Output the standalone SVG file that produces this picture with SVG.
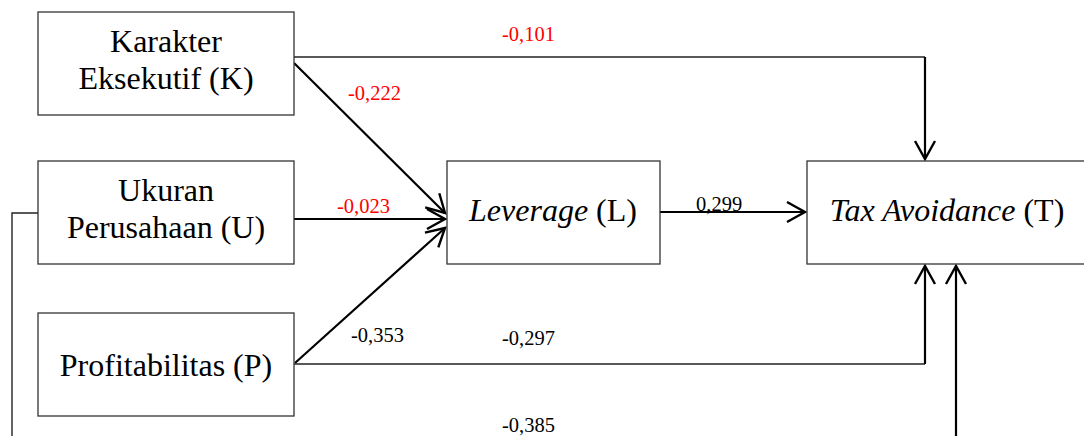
<svg xmlns="http://www.w3.org/2000/svg" width="1084" height="436" viewBox="0 0 1084 436">
<style>
.box{fill:#fff;stroke:#333;stroke-width:1.3}
.t{font-family:"Liberation Serif","Times New Roman",serif;font-size:32px;fill:#000;text-anchor:middle}
.lbl{font-family:"Liberation Serif","Times New Roman",serif;font-size:20.5px;fill:#000}
.red{fill:#ff0000}
.c{fill:none;stroke:#000;stroke-width:2.2}
.thin{fill:none;stroke:#222;stroke-width:1.4}
</style>
<defs>
<marker id="ah" markerUnits="userSpaceOnUse" markerWidth="24" markerHeight="24" viewBox="-20 -12 24 24" refX="0" refY="0" orient="auto">
<path d="M-18,-10 L0,0 L-18,10" fill="none" stroke="#000" stroke-width="2.4"/>
</marker>
</defs>
<rect width="1084" height="436" fill="#fff"/>
<g id="connectors">
<path class="thin" d="M294,57 H925"/>
<path class="c" d="M925,57 V159" marker-end="url(#ah)"/>
<path class="c" d="M294,63 L445,213" marker-end="url(#ah)"/>
<path class="c" d="M294,219 L445,219" marker-end="url(#ah)"/>
<path class="c" d="M295,363 L445,228" marker-end="url(#ah)"/>
<path class="c" d="M660,212 L805,212" marker-end="url(#ah)"/>
<path class="thin" d="M294,364 H925"/>
<path class="c" d="M925,364 V266" marker-end="url(#ah)"/>
<path class="thin" d="M38,213 H12 V440"/>
<path class="c" d="M956,440 V266" marker-end="url(#ah)"/>
</g>
<g id="node-K">
<rect class="box" x="38" y="12" width="256" height="103"/>
<text class="t" x="166" y="52">Karakter</text>
<text class="t" x="166" y="89">Eksekutif (K)</text>
</g>
<g id="node-U">
<rect class="box" x="38" y="161" width="256" height="103"/>
<text class="t" x="166" y="201">Ukuran</text>
<text class="t" x="166" y="238">Perusahaan (U)</text>
</g>
<g id="node-P">
<rect class="box" x="38" y="313" width="256" height="103"/>
<text class="t" x="166" y="376">Profitabilitas (P)</text>
</g>
<g id="node-L">
<rect class="box" x="447" y="161" width="213" height="103"/>
<text class="t" x="553" y="221"><tspan font-style="italic">Leverage</tspan> (L)</text>
</g>
<g id="node-T">
<rect class="box" x="807" y="161" width="281" height="103"/>
<text class="t" x="947" y="221"><tspan font-style="italic">Tax Avoidance</tspan> (T)</text>
</g>
<g id="labels">
<text class="lbl red" x="502" y="41">-0,101</text>
<text class="lbl red" x="348" y="100">-0,222</text>
<text class="lbl red" x="337" y="213">-0,023</text>
<text class="lbl" x="696" y="211">0,299</text>
<text class="lbl" x="351" y="342">-0,353</text>
<text class="lbl" x="502" y="345">-0,297</text>
<text class="lbl" x="502" y="432">-0,385</text>
</g>
</svg>
